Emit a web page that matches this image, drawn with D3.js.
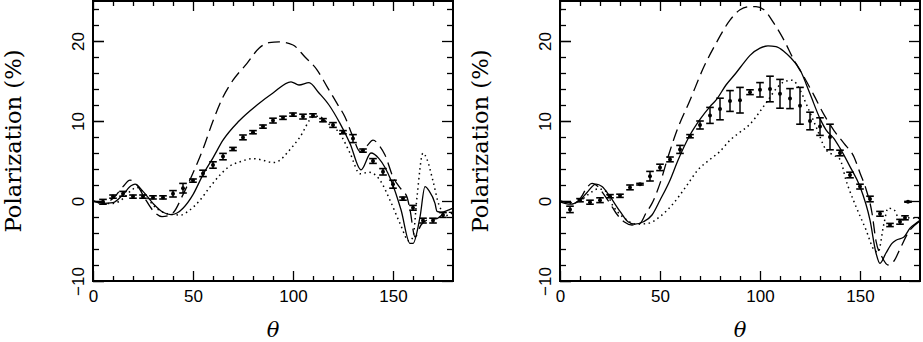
<!DOCTYPE html>
<html>
<head>
<meta charset="utf-8">
<script src="https://cdn.jsdelivr.net/npm/d3@7"></script>
<style>
  body { margin: 0; background: #fff; }
</style>
</head>
<body>
<script>
var width = 923,
  height = 342;

// axis ticks
var xMajor = [0, 50, 100, 150];
var xMinor = [10, 20, 30, 40, 60, 70, 80, 90, 110, 120, 130, 140, 160, 170];
var yMajor = [-10, 0, 10, 20];
var yMinor = [-8, -6, -4, -2, 2, 4, 6, 8, 12, 14, 16, 18, 22, 24];

// left panel: measured points [theta, P, error]
var leftPoints = [
  [5, -0.1, 0.3], [10, 0.55, 0.2], [15, 0.9, 0.3], [20, 0.55, 0.2], [25, 0.55, 0.2],
  [30, 0.45, 0.2], [35, 0.45, 0.2], [40, 0.9, 0.4], [45, 1.6, 0.6], [50, 2.55, 0.2],
  [55, 3.45, 0.4], [60, 4.5, 0.4], [65, 5.55, 0.4], [70, 6.5, 0.2], [75, 7.95, 0.3],
  [80, 8.6, 0.2], [85, 9.3, 0.2], [90, 10.05, 0.3], [95, 10.4, 0.2], [100, 10.8, 0.2],
  [105, 10.55, 0.3], [110, 10.7, 0.2], [115, 10.1, 0.2], [120, 9.5, 0.3], [125, 8.6, 0.2],
  [130, 7.8, 0.5], [135, 6.3, 0.2], [140, 5.0, 0.3], [145, 3.65, 0.4], [150, 2.1, 0.5],
  [155, 0.3, 0.2], [160, -0.85, 0.3], [165, -2.45, 0.3], [170, -2.45, 0.3], [175, -1.75, 0.3]
];
// left panel model curves [theta, P]
var leftSolid = [
  [0, 0], [5, -0.3], [10, -0.2], [15, 0.8], [19, 1.9], [21, 2.1], [25, 1.2], [30, -0.3],
  [35, -1.4], [39, -1.7], [42, -1.5], [45, -0.9], [50, 0.8], [55, 3.3], [60, 5.4], [65, 7.6],
  [73, 10.0], [82, 12.0], [90, 13.5], [99, 14.9], [103, 14.5], [108, 14.8], [113, 13.5],
  [118, 12.0], [123.5, 9.7], [128.5, 7.2], [134, 3.9], [139, 6.0], [143, 5.3], [149, 2.6],
  [154, -1.1], [158.5, -5.3], [160, -5.3], [163.5, -2.0], [166, 1.8], [168, 1.3], [171, -0.3],
  [172, -1.3], [174, -1.4], [178, -1.1], [180, -0.9]
];
var leftDashed = [
  [0, 0], [5, -0.2], [10, 0.3], [15, 1.8], [18.5, 2.6], [22, 2.0], [26, 0.3], [30, -1.2],
  [34.5, -1.95], [38, -1.8], [40, -1.5], [45, 0.8], [50, 3.5], [55, 6.5], [60, 10.0],
  [65, 13.0], [70, 15.1], [77, 17.2], [83, 19.1], [88, 19.8], [93, 19.9], [100, 19.5],
  [106, 18.0], [112, 16.4], [117, 14.3], [122, 12.2], [126, 10.5], [130, 8.0], [133.5, 6.2],
  [137, 6.9], [140, 7.6], [143.5, 6.8], [146, 5.75], [150, 3.0], [154, 1.5], [157, 0.5],
  [158.5, -1.1], [161, -4.5], [164, -3.0], [168, -2.3], [172, -2.2], [176, -1.5], [180, -1.4]
];
var leftDotted = [
  [0, 0], [5, -0.3], [10, -0.3], [15, 0.3], [19, 1.3], [22, 1.7], [26, 0.8], [30, -0.5],
  [35, -1.4], [40, -1.7], [44, -1.75], [48, -1.2], [53.5, 0.1], [58, 1.6], [63.5, 3.25],
  [68, 4.3], [73.5, 4.9], [80, 5.3], [85, 5.1], [90, 4.8], [94, 5.2], [97, 6.0], [103.5, 8.0],
  [110, 10.5], [113, 10.6], [117, 9.8], [123.5, 8.4], [128.5, 6.0], [133.5, 3.4], [138, 3.6],
  [143.5, 2.6], [148.5, 0.1], [153.5, -2.8], [158, -5.0], [160, -4.5], [162, 0.5], [165, 6.0],
  [167, 5.2], [170, 2.5], [173, -0.5], [177, -1.8], [180, -1.4]
];

// right panel: measured points [theta, P, error]
var rightPoints = [
  [5, -1.05, 0.4], [10, 0.1, 0.2], [15, -0.15, 0.25], [20, 0.1, 0.3], [25, 0.6, 0.2],
  [30, 0.65, 0.2], [35, 1.7, 0.3], [40, 2.1, 0.1], [45, 3.1, 0.6], [50, 4.2, 0.4],
  [55, 5.2, 0.3], [60, 6.45, 0.5], [65, 8.1, 0.2], [70, 9.5, 0.5], [75, 10.7, 1.0],
  [80, 11.5, 1.35], [85, 12.5, 1.3], [90, 12.6, 1.6], [95, 13.6, 0.3], [100, 13.9, 0.9],
  [105, 14.0, 1.6], [110, 13.4, 1.8], [115, 12.8, 1.25], [120, 11.9, 2.3], [125, 10.0, 1.1],
  [130, 9.3, 1.1], [135, 8.0, 1.6], [140, 6.0, 0.35], [145, 3.25, 0.35], [150, 1.8, 0.3],
  [155, 0.25, 0.35], [160, -1.6, 0.3], [165, -3.0, 0.2], [170, -2.6, 0.3], [172.5, -2.1, 0.25],
  [174, -0.1, 0.05]
];
// right panel model curves [theta, P]
var rightSolid = [
  [0, -0.1], [5, -0.4], [10, 0.1], [13.3, 1.0], [18, 2.1], [21, 1.8], [25, 0.55], [30, -1.3],
  [34, -2.6], [37.5, -2.9], [41.7, -2.6], [46, -1.75], [50, 0.1], [55, 2.6], [59, 5.1],
  [65, 8.25], [70, 10.2], [75, 11.8], [78, 12.6], [83, 14.5], [88, 16.0], [92, 17.3],
  [95, 18.2], [100, 19.1], [104, 19.4], [108, 19.3], [112, 18.7], [115, 18.0], [120, 16.4],
  [125, 13.4], [130, 10.3], [133, 8.9], [137, 7.8], [140, 6.6], [145, 4.3], [150, 1.8],
  [155, -2.4], [158, -6.5], [160, -7.8], [163, -6.5], [166, -5.3], [168, -4.9], [172, -4.5],
  [175, -3.4], [179, -2.6], [180, -2.4]
];
var rightDashed = [
  [0, 0], [5, -0.2], [10, 0.3], [13, 1.5], [16, 2.2], [19, 1.8], [22, 0.8], [25, -0.3],
  [28, -1.5], [32, -2.6], [36, -3.0], [40, -2.8], [43, -1.5], [46, -0.3], [50, 2.2],
  [54, 5.5], [58, 8.5], [65, 12.6], [72, 16.8], [78, 19.7], [85, 22.6], [90, 23.9],
  [95, 24.3], [98, 24.3], [102, 23.9], [107, 22.2], [112, 20.1], [117, 17.6], [122, 15.5],
  [127, 13.2], [132, 10.8], [137, 8.8], [142, 7.2], [147, 5.5], [150, 3.5], [153, 1.5],
  [156, -1.5], [158, -5.0], [161, -7.0], [164, -8.0], [167, -7.5], [170, -6.0], [174, -4.0],
  [180, -2.5]
];
var rightDotted = [
  [0, 0], [5, -0.3], [10, 0], [14, 0.8], [19, 1.5], [22, 1.4], [26.7, -0.7], [33, -2.3],
  [38, -2.9], [44, -2.8], [50, -1.95], [56.7, -0.3], [63, 1.8], [69, 3.9], [75, 5.2],
  [80, 6.2], [85, 7.6], [90, 8.6], [95, 9.6], [100, 11.2], [104, 12.6], [108, 14.0],
  [112, 14.9], [116, 15.1], [120, 13.9], [123, 12.2], [128, 9.3], [133, 6.4], [136.7, 5.75],
  [140, 5.2], [143, 2.6], [148, -0.7], [153, -3.6], [157, -6.1], [159, -6.4], [162, -2.8],
  [164, -0.9], [167, -1.1], [170, -2.4], [175, -2.1], [180, -2.2]
];

var svg = d3.select("body")
  .append("svg")
  .attr("width", width)
  .attr("height", height);

svg.append("rect")
  .attr("width", width)
  .attr("height", height)
  .attr("fill", "#fff");

function drawPanel(left, titleX, points, solid, dashed, dotted) {
  var x = d3.scaleLinear().domain([0, 180]).range([left, left + 360]);
  var y = d3.scaleLinear().domain([-10, 25]).range([281, 1]);

  var g = svg.append("g");

  // major and minor ticks on all four sides, pointing in
  function ticks(axis, tx, ty, values, size) {
    var a = g.append("g")
      .attr("transform", "translate(" + tx + "," + ty + ")")
      .call(axis.tickValues(values).tickSize(size).tickFormat(""));
    a.select(".domain").remove();
    a.selectAll("line").attr("stroke", "#000").attr("stroke-width", 1.3);
    return a;
  }
  ticks(d3.axisBottom(x), 0, 281, xMinor, -5);
  ticks(d3.axisTop(x), 0, 1, xMinor, -5);
  ticks(d3.axisTop(x), 0, 1, xMajor, -10);
  ticks(d3.axisLeft(y), left, 0, yMinor, -6);
  ticks(d3.axisRight(y), left + 360, 0, yMinor, -6);
  ticks(d3.axisLeft(y), left, 0, yMajor, -11);
  ticks(d3.axisRight(y), left + 360, 0, yMajor, -11);

  var xb = g.append("g")
    .attr("transform", "translate(0,281)")
    .call(d3.axisBottom(x).tickValues(xMajor).tickSize(-10).tickPadding(9));
  xb.select(".domain").remove();
  xb.selectAll("line").attr("stroke", "#000").attr("stroke-width", 1.3);
  xb.selectAll("text")
    .attr("fill", "#000")
    .style("font-family", "'Liberation Sans', Arial, sans-serif")
    .style("font-size", "17px");

  var yl = g.append("g")
    .attr("transform", "translate(" + left + ",0)")
    .call(d3.axisLeft(y).tickValues(yMajor).tickSize(-11));
  yl.select(".domain").remove();
  yl.selectAll("line").attr("stroke", "#000").attr("stroke-width", 1.3);
  yl.selectAll("text")
    .attr("x", 0)
    .attr("dy", 0)
    .attr("text-anchor", "middle")
    .attr("transform", "translate(-9.5,0) rotate(-90)")
    .attr("fill", "#000")
    .style("font-family", "'Liberation Sans', Arial, sans-serif")
    .style("font-size", "17px");

  // model curves
  var line = d3.line()
    .x(function (d) { return x(d[0]); })
    .y(function (d) { return y(d[1]); })
    .curve(d3.curveMonotoneX);

  g.append("path").datum(solid)
    .attr("fill", "none").attr("stroke", "#000").attr("stroke-width", 1.3)
    .attr("d", line);
  g.append("path").datum(dashed)
    .attr("fill", "none").attr("stroke", "#000").attr("stroke-width", 1.3)
    .attr("stroke-dasharray", "12,6")
    .attr("d", line);
  g.append("path").datum(dotted)
    .attr("fill", "none").attr("stroke", "#000").attr("stroke-width", 1.5)
    .attr("stroke-dasharray", "1.5,3.5")
    .attr("d", line);

  // data points with error bars
  var pt = g.append("g").selectAll("g")
    .data(points)
    .enter()
    .append("g");
  pt.append("line")
    .attr("x1", function (d) { return x(d[0]); })
    .attr("x2", function (d) { return x(d[0]); })
    .attr("y1", function (d) { return y(d[1] - d[2]); })
    .attr("y2", function (d) { return y(d[1] + d[2]); })
    .attr("stroke", "#000").attr("stroke-width", 1.5);
  [-1, 1].forEach(function (s) {
    pt.append("line")
      .attr("x1", function (d) { return x(d[0]) - 3.8; })
      .attr("x2", function (d) { return x(d[0]) + 3.8; })
      .attr("y1", function (d) { return y(d[1] + s * d[2]); })
      .attr("y2", function (d) { return y(d[1] + s * d[2]); })
      .attr("stroke", "#000").attr("stroke-width", 1.6);
  });
  pt.append("circle")
    .attr("cx", function (d) { return x(d[0]); })
    .attr("cy", function (d) { return y(d[1]); })
    .attr("r", 2)
    .attr("fill", "#000");

  // frame
  g.append("rect")
    .attr("x", left).attr("y", 1)
    .attr("width", 360).attr("height", 280)
    .attr("fill", "none").attr("stroke", "#000").attr("stroke-width", 2);

  // axis titles
  g.append("text")
    .attr("transform", "translate(" + titleX + ",141) rotate(-90)")
    .attr("text-anchor", "middle")
    .attr("textLength", 183)
    .attr("lengthAdjust", "spacingAndGlyphs")
    .style("font-family", "'DejaVu Serif', serif")
    .style("font-size", "22px")
    .text("Polarization (%)");

  g.append("text")
    .attr("x", left + 180)
    .attr("y", 337)
    .attr("text-anchor", "middle")
    .style("font-family", "'DejaVu Serif', serif")
    .style("font-style", "italic")
    .style("font-size", "21px")
    .text("θ");
}

drawPanel(93, 20.5, leftPoints, leftSolid, leftDashed, leftDotted);
drawPanel(560, 487.5, rightPoints, rightSolid, rightDashed, rightDotted);
</script>
</body>
</html>
